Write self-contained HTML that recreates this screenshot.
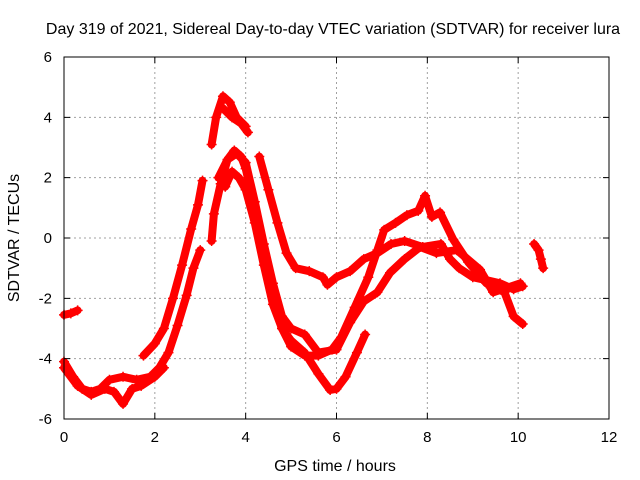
<!DOCTYPE html>
<html><head><meta charset="utf-8"><style>
body{margin:0;background:#fff}
svg{display:block;font-family:"Liberation Sans",sans-serif}
</style></head><body>
<svg id="chart" width="640" height="480" xmlns="http://www.w3.org/2000/svg">
<rect width="640" height="480" fill="#fff"/>
<text x="333" y="34" font-size="16" text-anchor="middle">Day 319 of 2021, Sidereal Day-to-day VTEC variation (SDTVAR) for receiver lura</text>
<text x="335" y="471" font-size="16" text-anchor="middle">GPS time / hours</text>
<text transform="translate(19,238) rotate(-90)" font-size="16" text-anchor="middle">SDTVAR / TECUs</text>
<g id="grid"></g><g id="series"></g>
<rect x="64" y="57" width="545" height="362" fill="none" stroke="#000" stroke-width="1"/>
<g id="ticks"></g>
</svg>
<script>
const xTicks=[0,2,4,6,8,10,12];
const yTicks=[-6,-4,-2,0,2,4,6];
const trackIso1=[[0,-2.55],[0.15,-2.5],[0.3,-2.4]];
const trackA=[[0,-4.1],[0.2,-4.6],[0.4,-5.0],[0.6,-5.1],[0.8,-5.0],[1.0,-4.7],[1.3,-4.6],[1.6,-4.7],[1.9,-4.6],[2.1,-4.3],[2.3,-3.8],[2.5,-2.9],[2.7,-1.9],[2.85,-1.0],[3.0,-0.4]];
const trackB=[[0,-4.3],[0.3,-4.9],[0.6,-5.2],[0.9,-5.0],[1.1,-5.1],[1.3,-5.5],[1.5,-5.0],[1.7,-4.9],[2.0,-4.6],[2.2,-4.3]];
const trackC=[[1.75,-3.9],[2.0,-3.5],[2.2,-3.0],[2.4,-2.0],[2.6,-0.9],[2.8,0.3],[2.95,1.1],[3.05,1.9]];
const trackD=[[3.25,3.1],[3.35,4.0],[3.5,4.7],[3.65,4.5],[3.8,4.0],[4.0,3.7]];
const trackE=[[3.5,4.3],[3.7,4.0],[3.9,3.8],[4.05,3.5]];
const trackF=[[3.25,-0.1],[3.3,0.8],[3.45,1.8],[3.6,2.6],[3.75,2.9],[3.9,2.7],[4.0,2.3],[4.2,1.0],[4.4,-0.6],[4.6,-1.9],[4.8,-3.0],[5.0,-3.6],[5.3,-3.9],[5.6,-3.9],[5.9,-3.7],[6.1,-3.3],[6.4,-2.3],[6.7,-1.3],[6.9,-0.4],[7.05,0.27],[7.3,0.5],[7.55,0.76],[7.8,0.9],[7.95,1.4],[8.1,0.7],[8.28,0.85],[8.57,-0.05],[8.9,-0.8],[9.3,-1.5],[9.7,-1.8],[9.9,-2.6],[10.1,-2.85]];
const trackG=[[3.55,1.7],[3.7,2.2],[3.85,2.0],[4.0,1.6],[4.2,0.5],[4.4,-0.9],[4.6,-2.2],[4.8,-3.0],[5.0,-3.4],[5.3,-3.8],[5.6,-4.5],[5.86,-5.04],[6.0,-5.0],[6.2,-4.6],[6.45,-3.8],[6.63,-3.2]];
const trackH=[[3.4,2.0],[3.6,2.6],[3.8,2.8],[4.0,2.5],[4.2,1.2],[4.4,-0.2],[4.6,-1.5],[4.8,-2.6],[5.0,-3.0],[5.3,-3.2],[5.6,-3.8],[6.0,-3.7],[6.3,-2.8],[6.6,-2.1],[6.9,-1.8],[7.18,-1.15],[7.5,-0.7],[7.84,-0.3],[8.2,-0.5],[8.65,-0.4],[9.16,-1.05],[9.45,-1.8],[10.05,-1.5]];
const trackI=[[4.3,2.7],[4.5,1.6],[4.7,0.5],[4.9,-0.5],[5.1,-1.0],[5.4,-1.1],[5.7,-1.3],[5.8,-1.55],[6.0,-1.3],[6.3,-1.1],[6.6,-0.7],[6.9,-0.5],[7.2,-0.2],[7.5,-0.1],[7.9,-0.3],[8.3,-0.2],[8.5,-0.7],[8.7,-1.0],[9.0,-1.3],[9.3,-1.4],[9.6,-1.5],[9.9,-1.7],[10.1,-1.6]];
const trackIso2=[[10.35,-0.2],[10.45,-0.4],[10.5,-0.7],[10.55,-1.0]];
const tracks=[trackIso1,trackA,trackB,trackC,trackD,trackE,trackF,trackG,trackH,trackI,trackIso2];
const NS="http://www.w3.org/2000/svg";
const X0=64,X1=609,Y0=419,Y1=57;
function sx(h){return X0+(h-0)/(12-0)*(X1-X0);}
function sy(v){return Y0-(v+6)/12*(Y0-Y1);}
function mk(t,a){const e=document.createElementNS(NS,t);for(const k in a)e.setAttribute(k,a[k]);return e;}
const grid=document.getElementById('grid'),ticks=document.getElementById('ticks'),ser=document.getElementById('series');
xTicks.forEach(t=>{const x=sx(t);
 if(t>0&&t<12){const g=mk('line',{x1:x,x2:x,y1:Y1,y2:Y0,stroke:'#a0a0a0','stroke-dasharray':'2,3'});
 
 grid.appendChild(g);}
 const tk=mk('path',{d:`M${x},${Y0}v-6M${x},${Y1}v6`,stroke:'#000'});
 
 ticks.appendChild(tk);
 const l=mk('text',{x:x,y:Y0+23,'font-size':15,'text-anchor':'middle'});l.textContent=t;
 
 ticks.appendChild(l);});
yTicks.forEach(t=>{const y=sy(t);
 if(t>-6&&t<6){const g=mk('line',{x1:X0,x2:X1,y1:y,y2:y,stroke:'#a0a0a0','stroke-dasharray':'2,3'});
 
 grid.appendChild(g);}
 const tk=mk('path',{d:`M${X0},${y}h6M${X1},${y}h-6`,stroke:'#000'});
 
 ticks.appendChild(tk);
 const l=mk('text',{x:X0-12,y:y+5,'font-size':15,'text-anchor':'end'});l.textContent=t;
 
 ticks.appendChild(l);});
tracks.forEach((tr,i)=>{
 const g=mk('g',{});
 
 
 const pts=tr.map(p=>sx(p[0]).toFixed(1)+','+sy(p[1]).toFixed(1)).join(' ');
 g.appendChild(mk('polyline',{points:pts,fill:'none',stroke:'#ff0000','stroke-width':8,'stroke-linejoin':'round','stroke-linecap':'round'}));
 let d='';tr.forEach(p=>{const x=sx(p[0]),y=sy(p[1]);d+=`M${x-5},${y}h10M${x},${y-5}v10`;});
 g.appendChild(mk('path',{d:d,stroke:'#ff0000','stroke-width':1.5}));
 ser.appendChild(g);});
</script>
</body></html>
